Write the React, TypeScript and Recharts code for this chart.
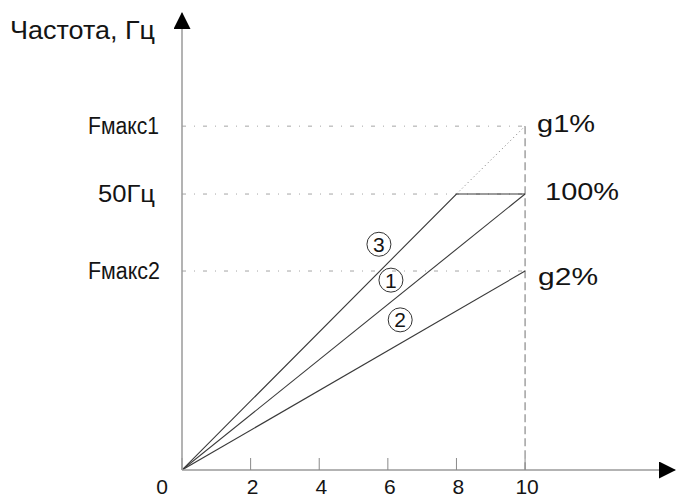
import React from 'react';
import { LineChart, Line, XAxis, YAxis, ReferenceLine, ReferenceDot } from 'recharts';

// ---- data ----
const xTicks = [0, 2, 4, 6, 8, 10];
const yTickValues = [36.05, 50, 62.3];
const yTickLabels = ['Fмакс2', '50Гц', 'Fмакс1'];

const line1 = [{ x: 0, y: 0 }, { x: 10, y: 50 }];
const line2 = [{ x: 0, y: 0 }, { x: 10, y: 36.05 }];
const line3 = [{ x: 0, y: 0 }, { x: 8, y: 50 }, { x: 10, y: 50 }];
const line3Ext = [{ x: 8, y: 50 }, { x: 10, y: 62.3 }];

const rightLabels = ['g1%', '100%', 'g2%'];
const rightLabelY = [62.3, 50, 36.05];

const circledText = ['3', '1', '2'];
const circledX = [5.74, 6.09, 6.36];
const circledY = [40.9, 34.4, 27.2];

const yTitle = 'Частота, Гц';

// ---- styles ----
const FONT = '"Liberation Sans", Arial, sans-serif';
const TEXT = '#141414';
const rightLabelStyle = [
  { dx: 12, dy: 6, len: 58 },
  { dx: 20, dy: 6, len: 74 },
  { dx: 13, dy: 14, len: 60 },
];
const yLabelStyle: Record<string, { len: number; dx: number }> = {
  'Fмакс1': { len: 71, dx: 1 },
  'Fмакс2': { len: 72, dx: 2 },
  '50Гц': { len: 57, dx: -3 },
};

const XTick = (props: any) => {
  const { x, y, payload } = props;
  const shift = payload.value === 0 ? -20 : 2;
  return (
    <text x={x + shift} y={y} dy="0.71em" textAnchor="middle" fontSize={21} fontFamily={FONT} fill={TEXT}>
      {String(payload.value)}
    </text>
  );
};

const YTick = (props: any) => {
  const { x, y, payload } = props;
  const i = yTickValues.indexOf(payload.value);
  const t = i >= 0 ? yTickLabels[i] : '';
  const s = yLabelStyle[t] || { len: 60, dx: 0 };
  return (
    <text x={x + s.dx} y={y + 7.5} textAnchor="end" fontSize={23} fontFamily={FONT} fill={TEXT}
      textLength={s.len} lengthAdjust="spacingAndGlyphs">
      {t}
    </text>
  );
};

export default function App() {
  return (
    <div style={{ position: 'absolute', left: 0, top: 0, width: 678, height: 499, background: '#fff' }}>
      <svg width={0} height={0} style={{ position: 'absolute' }}>
        <defs>
          <marker id="arrowHead" markerUnits="userSpaceOnUse" markerWidth={17} markerHeight={17}
            viewBox="0 0 17 17" refX={16} refY={8.5} orient="auto-start-reverse">
            <path d="M0,0 L17,8.5 L0,17 Z" fill="#000" />
          </marker>
        </defs>
      </svg>
      <LineChart width={678} height={499} margin={{ top: 13, right: 3, bottom: 0, left: 0 }}>
        <XAxis
          dataKey="x"
          type="number"
          domain={[0, 14.37]}
          ticks={xTicks}
          allowDataOverflow
          height={29}
          axisLine={{ stroke: '#9a9a9a', strokeWidth: 1.5, markerEnd: 'url(#arrowHead)' }}
          tickLine={{ stroke: '#8a8a8a', strokeWidth: 1 }}
          tickSize={-12}
          tickMargin={21}
          tick={<XTick />}
        />
        <YAxis
          type="number"
          domain={[0, 82.8]}
          ticks={yTickValues}
          allowDataOverflow
          width={182}
          axisLine={{ stroke: '#9a9a9a', strokeWidth: 1.5, markerStart: 'url(#arrowHead)' }}
          tickLine={false}
          tickSize={0}
          tickMargin={24}
          tick={<YTick />}
          label={{
            content: (p: any) => {
              const vb = p.viewBox || { x: 0, y: 13 };
              return (
                <text x={vb.x + 10} y={vb.y + 26} fontSize={25} fontFamily={FONT} fill={TEXT}
                  textLength={145} lengthAdjust="spacingAndGlyphs">
                  {yTitle}
                </text>
              );
            },
          }}
        />
        {yTickValues.map((v, i) => (
          <ReferenceLine key={'h' + i} segment={[{ x: 0, y: v }, { x: 10, y: v }]}
            stroke="#a5a5a5" strokeWidth={1} strokeDasharray="4 8 1 8" />
        ))}
        <ReferenceLine segment={[{ x: 10, y: 62.3 }, { x: 10, y: 0 }]}
          stroke="#8a8a8a" strokeWidth={1.2} strokeDasharray="8 4" />
        <Line data={line3Ext} dataKey="y" type="linear" stroke="#777" strokeWidth={1}
          strokeDasharray="1 3" dot={false} isAnimationActive={false} />
        <Line data={line1} dataKey="y" type="linear" stroke="#3a3a3a" strokeWidth={1.1}
          dot={false} isAnimationActive={false} />
        <Line data={line2} dataKey="y" type="linear" stroke="#3a3a3a" strokeWidth={1.1}
          dot={false} isAnimationActive={false} />
        <Line data={line3} dataKey="y" type="linear" stroke="#3a3a3a" strokeWidth={1.1}
          dot={false} isAnimationActive={false} />
        {rightLabels.map((t, i) => (
          <ReferenceDot key={'r' + i} x={10} y={rightLabelY[i]} r={1}
            shape={(p: any) => (
              <text x={p.cx + rightLabelStyle[i].dx} y={p.cy + rightLabelStyle[i].dy}
                fontSize={23} fontFamily={FONT} fill={TEXT}
                textLength={rightLabelStyle[i].len} lengthAdjust="spacingAndGlyphs">
                {t}
              </text>
            )}
          />
        ))}
        {circledText.map((t, i) => (
          <ReferenceDot key={'c' + i} x={circledX[i]} y={circledY[i]} r={12}
            shape={(p: any) => (
              <g>
                <circle cx={p.cx} cy={p.cy} r={12} fill="none" stroke="#333" strokeWidth={1} />
                <text x={p.cx} y={p.cy + 7.5} textAnchor="middle" fontSize={21} fontFamily={FONT} fill={TEXT}>
                  {t}
                </text>
              </g>
            )}
          />
        ))}
      </LineChart>
    </div>
  );
}
